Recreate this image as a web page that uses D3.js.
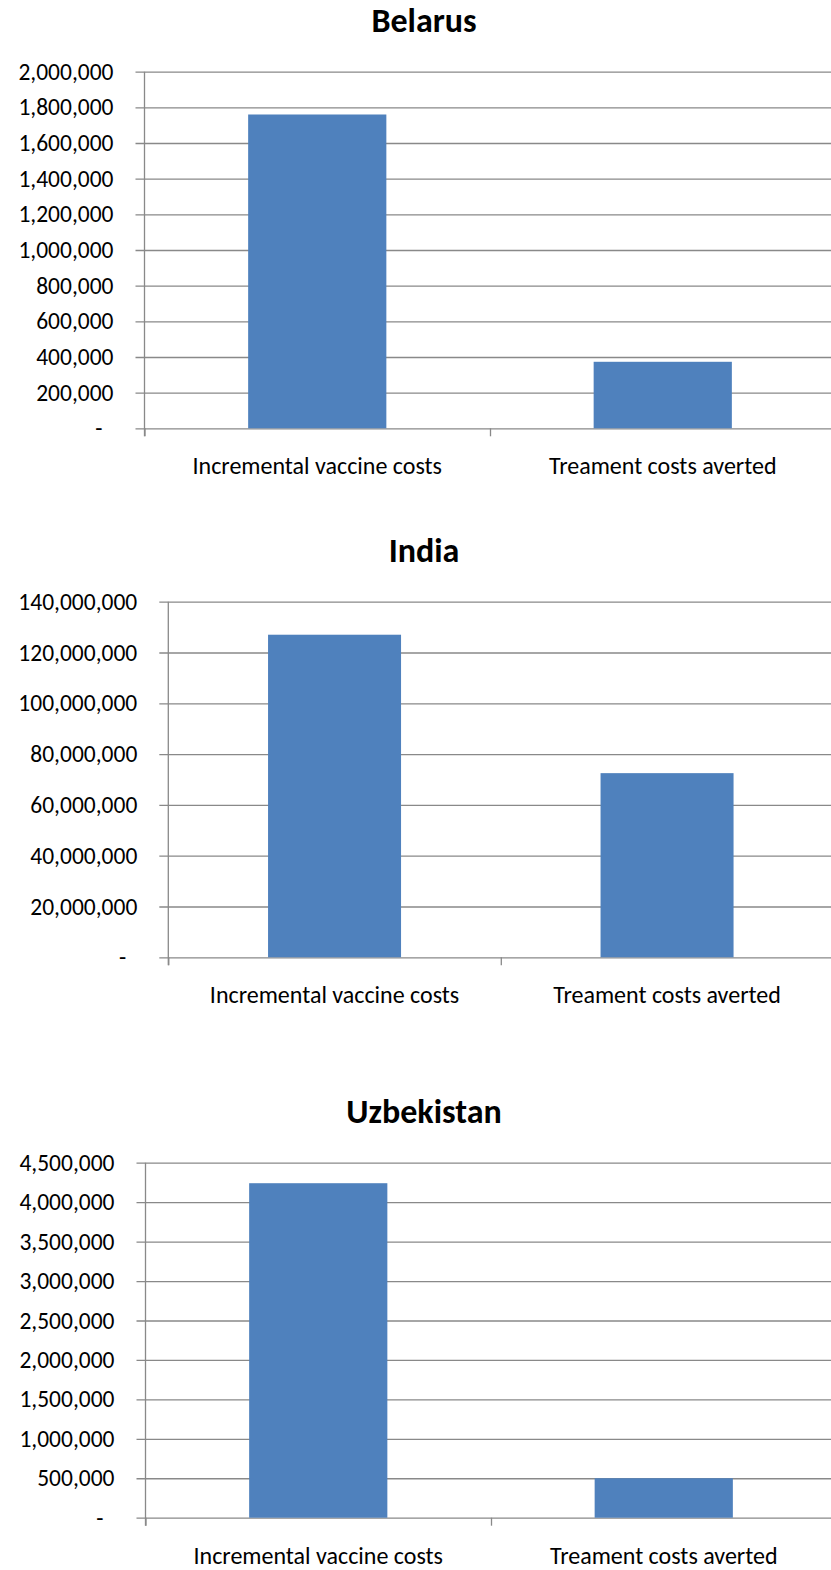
<!DOCTYPE html>
<html>
<head>
<meta charset="utf-8">
<script src="https://cdn.jsdelivr.net/npm/d3@7"></script>
<style>
  body { margin: 0; background: #fff; }
  svg { display: block; }
  text { font-family: Carlito, Lato, "Liberation Sans", sans-serif; fill: #000; }
</style>
</head>
<body>
<div id="chart"></div>
<script>
// three small excel-style column charts, one per country

var width = 831,
    height = 1570;

var categories = ["Incremental vaccine costs", "Treament costs averted"];
var countries = ["Belarus", "India", "Uzbekistan"];

var belarusValues = [1760000, 373000];
var indiaValues = [127000000, 72500000];
var uzbekistanValues = [4240000, 500000];

var belarusTicks = [0, 200000, 400000, 600000, 800000, 1000000, 1200000, 1400000, 1600000, 1800000, 2000000];
var indiaTicks = [0, 20000000, 40000000, 60000000, 80000000, 100000000, 120000000, 140000000];
var uzbekistanTicks = [0, 500000, 1000000, 1500000, 2000000, 2500000, 3000000, 3500000, 4000000, 4500000];

var seriesValues = [belarusValues, indiaValues, uzbekistanValues];
var seriesTicks = [belarusTicks, indiaTicks, uzbekistanTicks];

// plot box for each chart (left axis x, right edge, top gridline, zero line)
var boxes = [
  {left: 144.5, right: 835.5, top: 71.7, bottom: 428.3},
  {left: 168.3, right: 833.3, top: 601.7, bottom: 957.3},
  {left: 145.5, right: 836.5, top: 1162.7, bottom: 1517.7}
];

var svg = d3.select("#chart").append("svg")
    .attr("width", width)
    .attr("height", height);

var fmt = d3.format(",");

countries.forEach(function(country, i) {
  var box = boxes[i],
      values = seriesValues[i],
      ticks = seriesTicks[i];
  var w = box.right - box.left,
      h = box.bottom - box.top;

  var g = svg.append("g")
      .attr("transform", "translate(" + box.left + "," + box.top + ")");

  var x = d3.scaleBand()
      .domain(categories)
      .range([0, w])
      .paddingInner(0.6)
      .paddingOuter(0.3);

  var y = d3.scaleLinear()
      .domain([0, d3.max(ticks)])
      .range([h, 0]);

  // title
  svg.append("text")
      .attr("x", 424)
      .attr("y", box.top - 40)
      .attr("text-anchor", "middle")
      .style("font-size", "34px")
      .style("font-weight", "bold")
      .text(country);

  // y axis + gridlines
  var yAxis = g.append("g")
      .call(d3.axisLeft(y)
        .tickValues(ticks)
        .tickSize(-w)
        .tickSizeOuter(0)
        .tickPadding(31)
        .tickFormat(function(d) { return d === 0 ? "-" : fmt(d); }));

  yAxis.select(".domain").remove();
  yAxis.selectAll(".tick line")
      .attr("x1", -9)
      .attr("stroke", "#898989")
      .attr("stroke-width", 1.3);
  yAxis.selectAll(".tick text")
      .attr("dx", function(d) { return d === 0 ? -11 : 0; })
      .style("font-size", "23.5px")
      .style("font-family", null);

  // vertical axis line
  g.append("line")
      .attr("x1", 0).attr("x2", 0)
      .attr("y1", 0).attr("y2", h + 8)
      .attr("stroke", "#898989")
      .attr("stroke-width", 1.3);

  // bars
  g.selectAll("rect")
      .data(values)
      .enter()
      .append("rect")
      .attr("x", function(d, j) { return x(categories[j]); })
      .attr("y", function(d) { return y(d); })
      .attr("width", x.bandwidth())
      .attr("height", function(d) { return h - y(d); })
      .attr("fill", "#4f81bd");

  // category boundary ticks
  var xb = d3.scaleLinear().domain([0, categories.length]).range([0, w]);
  var xAxis = g.append("g")
      .attr("transform", "translate(0," + h + ")")
      .call(d3.axisBottom(xb)
        .tickValues(d3.range(categories.length + 1))
        .tickSize(8)
        .tickSizeOuter(0)
        .tickFormat(""));
  xAxis.select(".domain").remove();
  xAxis.selectAll(".tick line")
      .attr("stroke", "#898989")
      .attr("stroke-width", 1.3);

  // category labels
  g.selectAll(".cat")
      .data(categories)
      .enter()
      .append("text")
      .attr("class", "cat")
      .attr("x", function(d) { return x(d) + x.bandwidth() / 2; })
      .attr("y", h + 46)
      .attr("text-anchor", "middle")
      .style("font-size", "24px")
      .text(function(d) { return d; });
});
</script>
</body>
</html>
